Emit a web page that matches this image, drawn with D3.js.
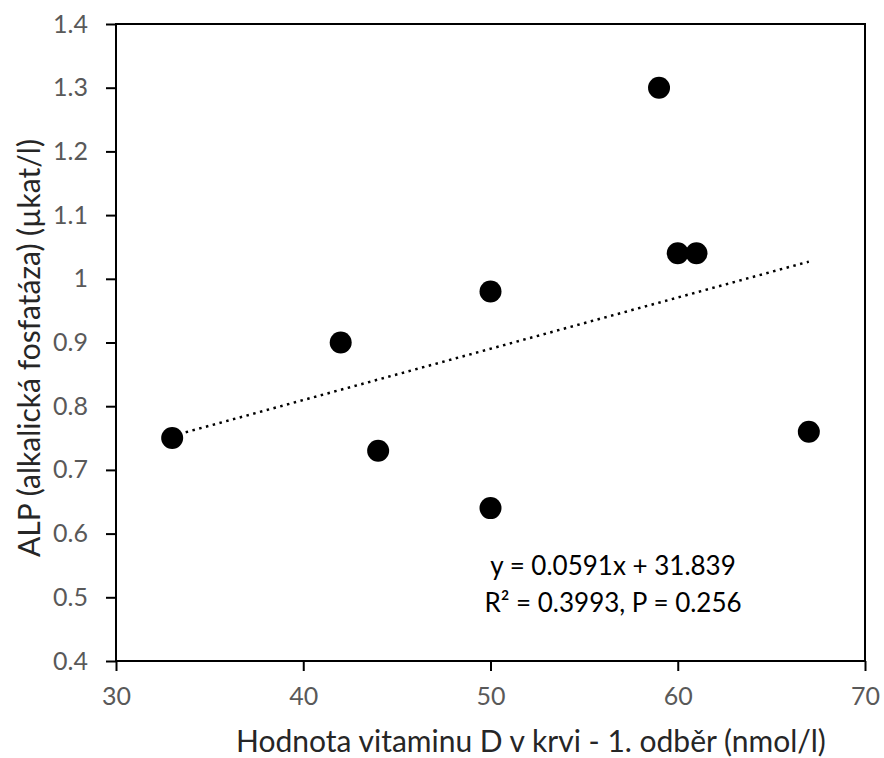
<!DOCTYPE html>
<html>
<head>
<meta charset="utf-8">
<script src="https://cdn.jsdelivr.net/npm/d3@7"></script>
<style>
  body { margin: 0; background: #fff; }
  svg text { font-family: Lato, 'Open Sans', sans-serif; }
</style>
</head>
<body>
<div id="chart"></div>
<script>
// vitamin D (nmol/l) vs ALP (µkat/l)
const vitD = [33, 42, 44, 50, 50, 59, 60, 61, 67];
const alp = [0.75, 0.90, 0.73, 0.98, 0.64, 1.30, 1.04, 1.04, 0.76];
const xTicks = [30, 40, 50, 60, 70];
const yTicks = [0.4, 0.5, 0.6, 0.7, 0.8, 0.9, 1, 1.1, 1.2, 1.3, 1.4];
const eqLines = ['y = 0.0591x + 31.839', 'R\u00b2 = 0.3993, P = 0.256'];

const W = 884, H = 758;
const plotL = 116, plotR = 865, plotT = 24, plotB = 661;

const svg = d3.select('#chart').append('svg')
  .attr('width', W).attr('height', H);

const x = d3.scaleLinear().domain([30, 70]).range([plotL, plotR]);
const y = d3.scaleLinear().domain([0.4, 1.4]).range([plotB, plotT]);

// plot frame
svg.append('rect')
  .attr('x', plotL).attr('y', plotT)
  .attr('width', plotR - plotL).attr('height', plotB - plotT)
  .attr('fill', 'none').attr('stroke', '#000').attr('stroke-width', 2);

const xAxis = svg.append('g')
  .attr('transform', `translate(0,${plotB})`)
  .call(d3.axisBottom(x).tickValues(xTicks).tickSize(10).tickPadding(16));
const yAxis = svg.append('g')
  .attr('transform', `translate(${plotL},0)`)
  .call(d3.axisLeft(y).tickValues(yTicks).tickSize(10).tickPadding(18)
    .tickFormat(d => d3.format('')(+d.toFixed(1))));

[xAxis, yAxis].forEach(g => {
  g.select('.domain').remove();
  g.selectAll('line').attr('stroke', '#000').attr('stroke-width', 2);
  g.selectAll('text').attr('fill', '#595959').style('font-size', '25px');
});

// linear trend (least squares)
const mx = d3.mean(vitD), my = d3.mean(alp);
const slope = d3.sum(vitD, (v, i) => (v - mx) * (alp[i] - my)) / d3.sum(vitD, v => (v - mx) ** 2);
const icpt = my - slope * mx;
const [x0, x1] = d3.extent(vitD);
svg.append('line')
  .attr('x1', x(x0)).attr('y1', y(icpt + slope * x0))
  .attr('x2', x(x1)).attr('y2', y(icpt + slope * x1))
  .attr('stroke', '#000').attr('stroke-width', 2.5)
  .attr('stroke-dasharray', '2.5 4.5');

svg.append('g').selectAll('circle')
  .data(vitD)
  .enter().append('circle')
  .attr('cx', d => x(d))
  .attr('cy', (d, i) => y(alp[i]))
  .attr('r', 11)
  .attr('fill', '#000');

svg.append('text')
  .attr('x', 613).attr('y', 575)
  .attr('text-anchor', 'middle')
  .style('font-size', '26px').attr('fill', '#000')
  .selectAll('tspan').data(eqLines).enter().append('tspan')
  .attr('x', 613).attr('dy', (d, i) => i ? 37 : 0)
  .text(d => d);

svg.append('text')
  .attr('x', 531).attr('y', 752)
  .attr('text-anchor', 'middle')
  .style('font-size', '30px').attr('fill', '#262626')
  .text('Hodnota vitaminu D v krvi - 1. odběr (nmol/l)');

svg.append('text')
  .attr('transform', `translate(40,348) rotate(-90)`)
  .attr('text-anchor', 'middle')
  .style('font-size', '30px').attr('fill', '#262626')
  .text('ALP (alkalická fosfatáza) (µkat/l)');
</script>
</body>
</html>
